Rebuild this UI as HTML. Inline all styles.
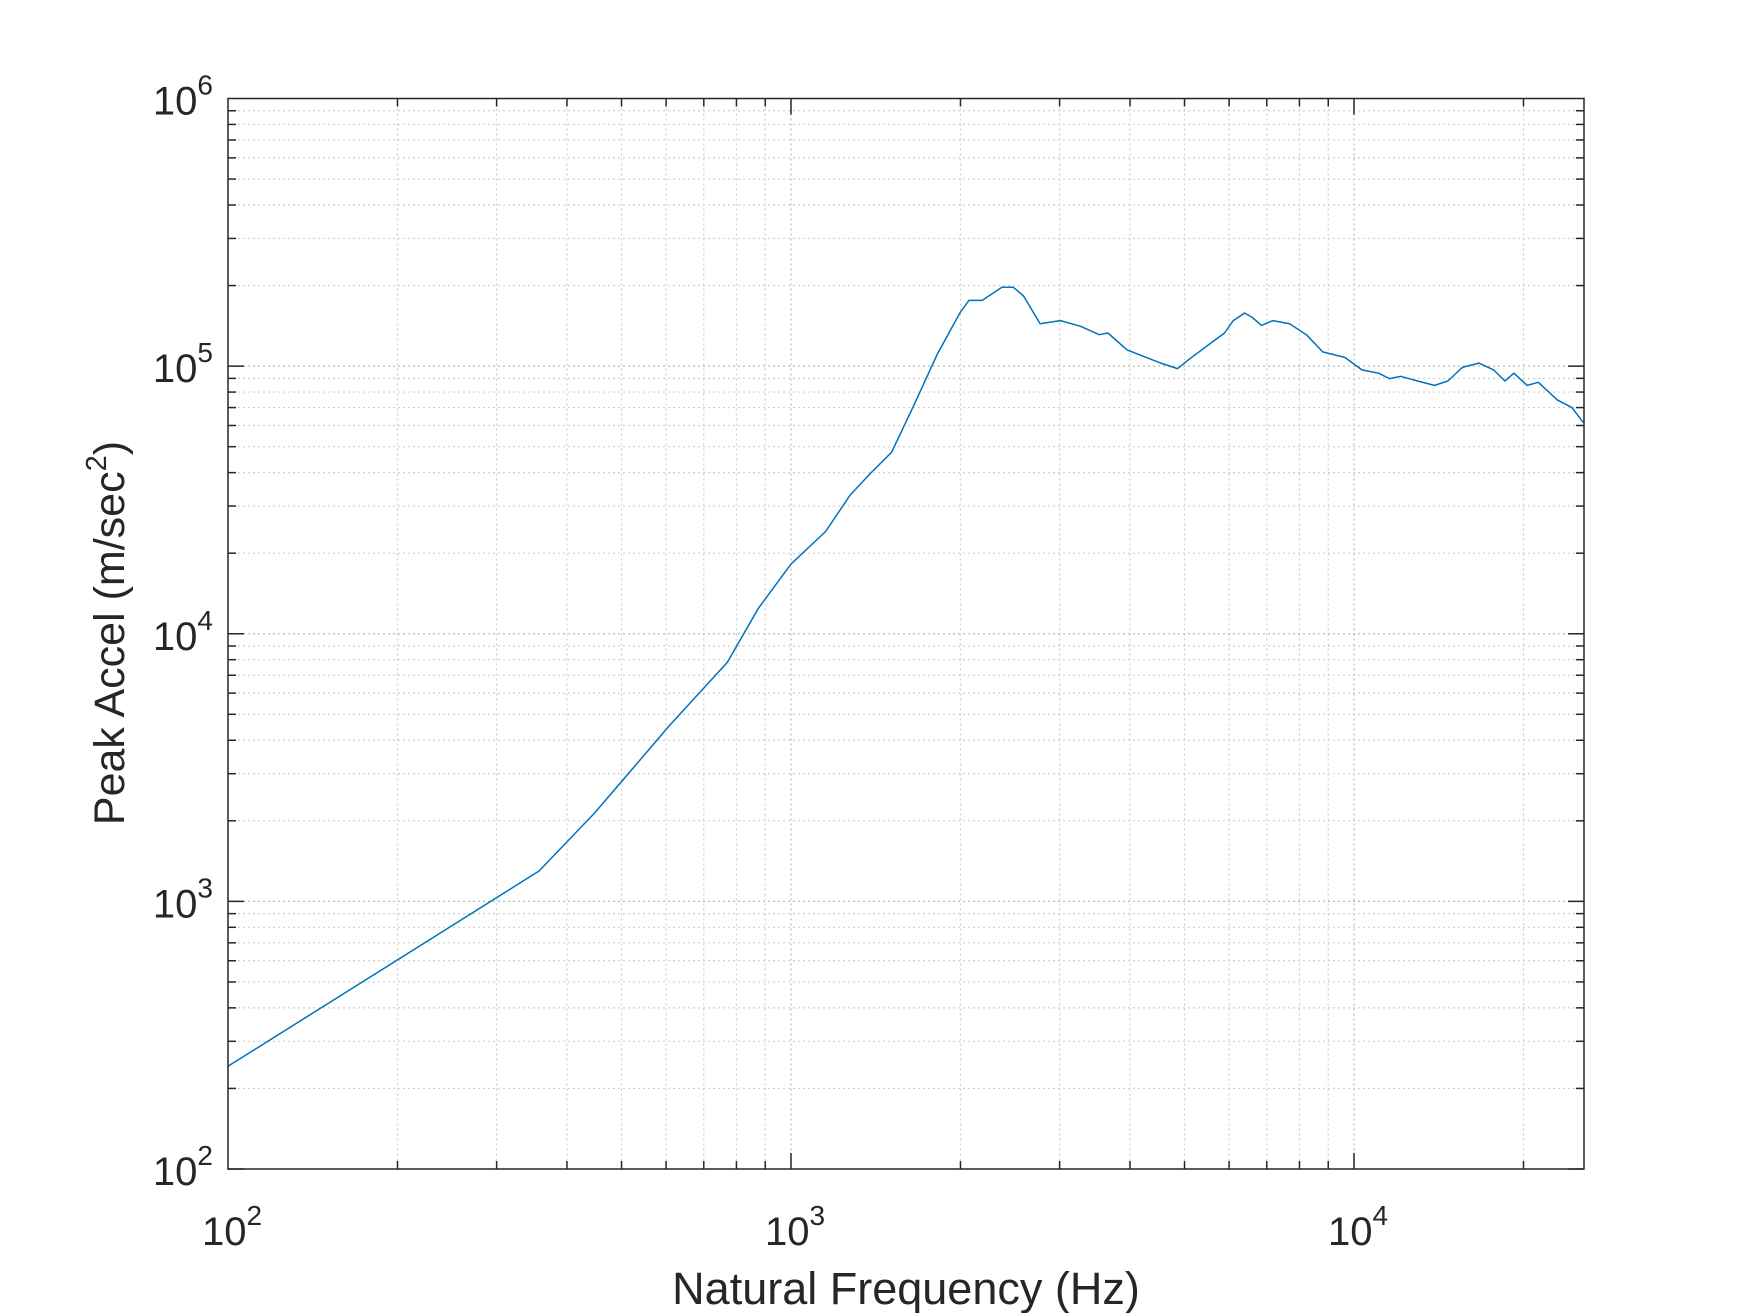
<!DOCTYPE html>
<html><head><meta charset="utf-8"><style>
html,body{margin:0;padding:0;background:#fff;}
svg{display:block;font-family:"Liberation Sans",Arial,sans-serif;}
</style></head><body>
<svg id="chart" width="1750" height="1313" viewBox="0 0 1750 1313" xmlns="http://www.w3.org/2000/svg">
<rect width="1750" height="1313" fill="#fff"/>
<g id="grid"></g>
<g id="ticks"></g>
<path id="series" fill="none" stroke="#0072BD" stroke-width="1.5" stroke-linejoin="round"/>
<rect x="228" y="98.5" width="1356" height="1070.5" fill="none" stroke="#262626" stroke-width="1.5"/>
<g id="labels" fill="#262626"></g>
<text x="906" y="1304" text-anchor="middle" font-size="45" fill="#262626">Natural Frequency (Hz)</text>
<text transform="translate(124,633) rotate(-90)" text-anchor="middle" font-size="43" fill="#262626">Peak Accel (m/sec<tspan font-size="29" dy="-18">2</tspan><tspan dy="18">)</tspan></text>
</svg>
<script>
const freqs=[100,357,448,608,771,874,1000,1152,1274,1383,1509,1646,1820,1995,2070,2185,2370,2483,2588,2770,3008,3265,3528,3655,3954,4536,4860,5085,5570,5888,6105,6394,6600,6850,7170,7680,8230,8800,9640,10330,11060,11560,12100,12970,13900,14680,15570,16670,17700,18540,19230,20310,21250,22970,24380,25530];
const accels=[242,1300,2140,4530,7830,12400,18200,24100,33000,39700,47700,70000,111000,158000,176000,176000,197000,197000,183000,144000,148000,141000,131000,133000,115000,102600,97900,105700,122000,133000,148000,158000,152000,142000,148000,144000,131000,113000,107700,96800,94100,89800,91600,88000,84700,88000,98900,102600,96800,88000,94100,84700,87000,74800,70000,61600];
const xTickExps=[2,3,4];
const yTickExps=[2,3,4,5,6];
const L=228,R=1584,T=98.5,B=1169;
const xmin=2,xmax=2+(R-L)/563;
const ymin=2,ymax=6;
function xs(v){return L+(Math.log10(v)-xmin)/(xmax-xmin)*(R-L);}
function ys(v){return B-(Math.log10(v)-ymin)/(ymax-ymin)*(B-T);}
const NS="http://www.w3.org/2000/svg";
const grid=document.getElementById('grid'),ticks=document.getElementById('ticks'),labels=document.getElementById('labels');
function line(parent,x1,y1,x2,y2,st,sw,dash){const l=document.createElementNS(NS,'line');
l.setAttribute('x1',x1);l.setAttribute('y1',y1);l.setAttribute('x2',x2);l.setAttribute('y2',y2);
l.setAttribute('stroke',st);l.setAttribute('stroke-width',sw);if(dash)l.setAttribute('stroke-dasharray',dash);parent.appendChild(l);return l;}
for(let e=2;e<=4;e++){for(let m=1;m<=9;m++){const v=m*Math.pow(10,e);if(Math.log10(v)>xmax+1e-9)continue;const x=xs(v);
 if(x<=L+0.5)continue;
 const g=line(grid,x,T,x,B,m===1?'#b8b8b8':'#cfcfcf',1.2,'2,3');
 
 
 const len=m===1?16:8;
 const t1=line(ticks,x,B,x,B-len,'#262626',1.5);
 
 
 const t2=line(ticks,x,T,x,T+len,'#262626',1.5);
 
 }}
for(let e=2;e<6;e++){for(let m=1;m<=9;m++){const v=m*Math.pow(10,e);const y=ys(v);
 if(m!==1||e!==2){const g=line(grid,L,y,R,y,m===1?'#b8b8b8':'#cfcfcf',1.2,'2,3');
 
 }
 const len=m===1?16:8;
 const t1=line(ticks,L,y,L+len,y,'#262626',1.5);
 
 
 const t2=line(ticks,R,y,R-len,y,'#262626',1.5);
 
 }}
function powLabel(x,y,e,anchor){const t=document.createElementNS(NS,'text');t.setAttribute('x',x);t.setAttribute('y',y);
 t.setAttribute('font-size','40');t.setAttribute('text-anchor',anchor);
 t.innerHTML='10<tspan font-size="28" dy="-20">'+e+'</tspan>';labels.appendChild(t);return t;}
xTickExps.forEach(e=>{const t=powLabel(xs(Math.pow(10,e))+4,B+76,e,'middle');
 
 });
yTickExps.forEach(e=>{const t=powLabel(L-15,ys(Math.pow(10,e))+16,e,'end');
 
 });
let d='';freqs.forEach((f,i)=>{d+=(i?'L':'M')+xs(f).toFixed(1)+','+ys(accels[i]).toFixed(1);});
document.getElementById('series').setAttribute('d',d);
</script>
</body></html>
